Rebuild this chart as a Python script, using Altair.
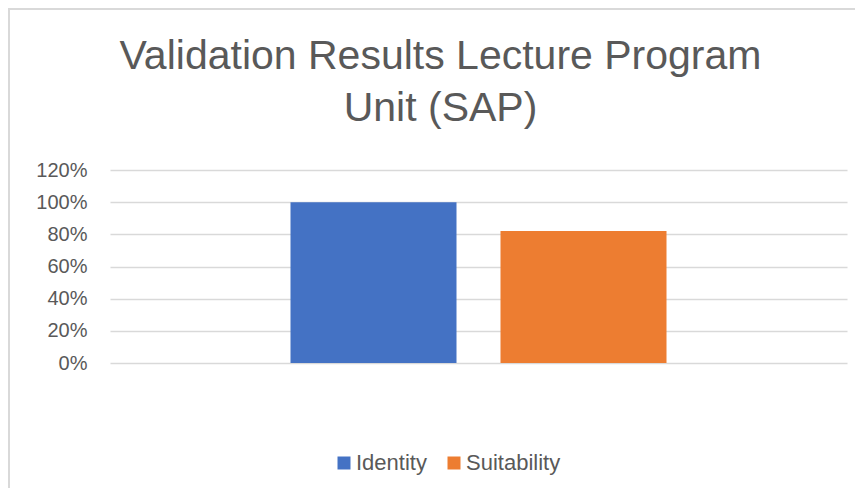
import altair as alt
import pandas as pd

series = ["Identity", "Suitability"]
values = [1.00, 0.82]
colors = ["#4472C4", "#ED7D31"]
y_ticks = [0, 0.2, 0.4, 0.6, 0.8, 1.0, 1.2]
title_lines = ["Validation Results Lecture Program", "Unit (SAP)"]

FONT = "Liberation Sans, Arial, sans-serif"
GREY = "#595959"

df = pd.DataFrame({"series": series, "value": values})

bars = alt.Chart(df).mark_bar().encode(
    x=alt.X("series:N", sort=series,
            scale=alt.Scale(paddingInner=0.2095, paddingOuter=0.8595),
            axis=None),
    y=alt.Y("value:Q",
            scale=alt.Scale(domain=[0, 1.2], nice=False, zero=True),
            axis=alt.Axis(values=y_ticks, format=".0%", title=None,
                          domain=False, ticks=False, grid=True,
                          gridColor="#d9d9d9", gridWidth=1.3,
                          labelColor=GREY, labelFont=FONT, labelFontSize=20,
                          labelPadding=23)),
    color=alt.Color("series:N", sort=series,
                    scale=alt.Scale(domain=series, range=colors),
                    legend=alt.Legend(orient="none", direction="horizontal",
                                      legendX=223, legendY=282, title=None,
                                      padding=0, symbolType="square",
                                      symbolSize=169, symbolStrokeWidth=0,
                                      symbolOpacity=1,
                                      labelFont=FONT, labelFontSize=22,
                                      labelColor=GREY, labelOffset=1,
                                      columnPadding=16)),
)

border = alt.Chart(pd.DataFrame({"k": [0]})).mark_rect(
    fill="white", fillOpacity=0, stroke="#d9d9d9", strokeWidth=2
).encode(
    x=alt.value(-101), x2=alt.value(900),
    y=alt.value(-161), y2=alt.value(500),
)

chart = alt.layer(border, bars).properties(
    width=737,
    height=193,
    padding={"left": 102, "top": 162, "right": 8, "bottom": 125},
    autosize=alt.AutoSizeParams(type="none"),
    title=alt.TitleParams(text=title_lines, font=FONT, fontSize=41,
                          fontWeight="normal", color=GREY, anchor="middle",
                          frame="group", lineHeight=52, dx=-38, offset=0,
                          dy=122),
).configure_view(stroke=None)

chart.save("out.html", embed_options={"renderer": "svg", "actions": False})
